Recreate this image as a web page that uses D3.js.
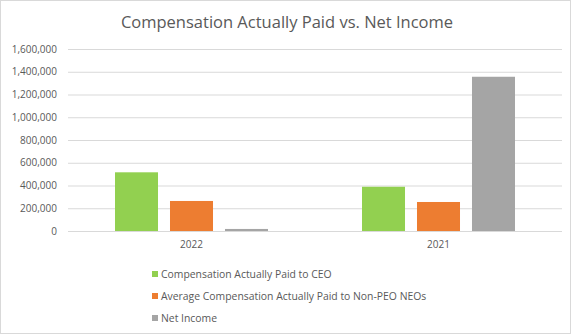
<!DOCTYPE html>
<html><head><meta charset="utf-8">
<script src="https://cdn.jsdelivr.net/npm/d3@7"></script>
<style>body{margin:0;background:#fff}svg{display:block}text{font-family:"Open Sans",sans-serif;fill:#595959}</style>
</head><body><svg id="c" width="576" height="336"></svg>
<script>
const categories = ["2022", "2021"];
const seriesNames = ["Compensation Actually Paid to CEO", "Average Compensation Actually Paid to Non-PEO NEOs", "Net Income"];
const ceoValues = [516000, 389000];
const neoValues = [264000, 255000];
const netIncomeValues = [18000, 1356000];
const yTicks = [0, 200000, 400000, 600000, 800000, 1000000, 1200000, 1400000, 1600000];
const colors = ["#92D050", "#ED7D31", "#A5A5A5"];
const title = "Compensation Actually Paid vs. Net Income";

const seriesValues = [ceoValues, neoValues, netIncomeValues];
const svg = d3.select("#c");
svg.append("rect").attr("x",0.5).attr("y",0.5).attr("width",570).attr("height",333).attr("fill","#fff").attr("stroke","#D9D9D9");

const x = d3.scaleBand().domain(categories).range([68, 562]);
const xs = d3.scaleBand().domain(seriesNames).range([47, 200]).paddingInner(0.218);
const y = d3.scaleLinear().domain([0, 1600000]).range([231, 49]);

svg.append("text").attr("x", 287).attr("y", 28).attr("text-anchor","middle").style("font-size","16.5px").text(title);

const yAxis = d3.axisLeft(y).tickValues(yTicks).tickFormat(d3.format(",")).tickSize(-(562-68)).tickPadding(11);
const ga = svg.append("g").attr("transform","translate(68,0)").call(yAxis);
ga.select(".domain").remove();
ga.selectAll(".tick line").attr("stroke","#D9D9D9").attr("stroke-width",1);
ga.selectAll(".tick text").style("font-size","10px").style("font-family","'Open Sans',sans-serif").attr("fill","#595959");

const xAxis = d3.axisBottom(x).tickSize(0).tickPadding(10);
const gx = svg.append("g").attr("transform","translate(0,231)").call(xAxis);
gx.select(".domain").remove();
gx.selectAll(".tick text").style("font-size","10px").style("font-family","'Open Sans',sans-serif").attr("fill","#595959");

seriesNames.forEach((s, i) => {
  svg.append("g").selectAll("rect").data(categories).join("rect")
    .attr("x", c => x(c) + xs(s))
    .attr("width", xs.bandwidth())
    .attr("y", (c, j) => y(seriesValues[i][j]))
    .attr("height", (c, j) => y(0) - y(seriesValues[i][j]))
    .attr("fill", colors[i]);
});

const leg = svg.append("g").selectAll("g").data(seriesNames).join("g")
  .attr("transform", (d, i) => `translate(152,${274 + i*22})`);
leg.append("rect").attr("x",0).attr("y",-3).attr("width",6).attr("height",6).attr("fill",(d,i)=>colors[i]);
leg.append("text").attr("x",9).attr("y",4).style("font-size","10.4px").text(d=>d);
</script></body></html>
